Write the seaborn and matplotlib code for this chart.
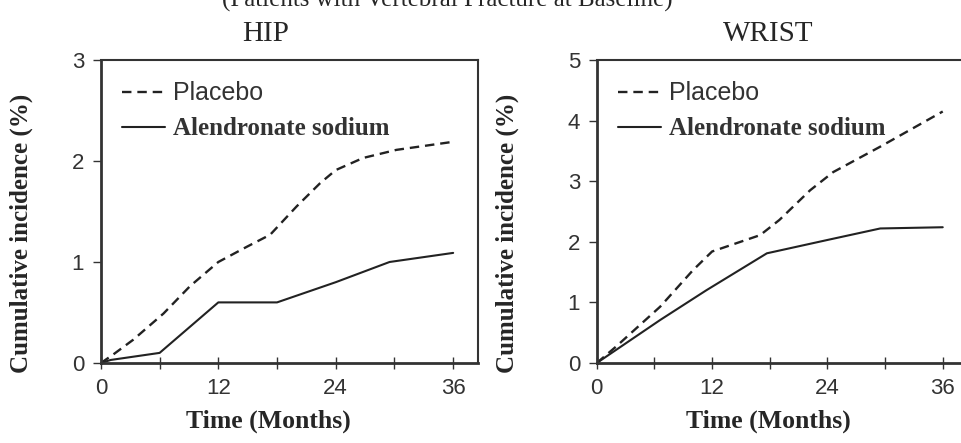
import numpy as np
import pandas as pd
import seaborn as sns
import matplotlib.pyplot as plt
from matplotlib.ticker import MultipleLocator

# data (months, cumulative incidence %)
hip_months = [0, 1.2, 3.3, 6.4, 9.1, 12, 14.9, 17.3, 20, 22.4, 24, 26.8, 30.2, 36]
hip_placebo = [0, 0.08, 0.23, 0.49, 0.76, 1.0, 1.15, 1.27, 1.55, 1.78, 1.91, 2.03, 2.11, 2.19]
hip_alen_months = [0, 1, 6, 12, 18, 24, 29.5, 36]
hip_alen = [0, 0.03, 0.1, 0.6, 0.6, 0.8, 1.0, 1.09]

wrist_months = [0, 2, 6.6, 10, 12, 17, 19, 22.2, 24.6, 29.5, 36]
wrist_placebo = [0, 0.27, 0.93, 1.53, 1.84, 2.11, 2.36, 2.85, 3.15, 3.57, 4.15]
wrist_alen_months = [0, 6.6, 11.4, 17.7, 24, 29.5, 36]
wrist_alen = [0, 0.71, 1.2, 1.81, 2.03, 2.22, 2.24]

sns.set_style("ticks")
serif = ["Liberation Serif", "DejaVu Serif"]
sans = ["Liberation Sans", "DejaVu Sans"]

fig = plt.figure(figsize=(9.61, 4.43), dpi=100)
ax1 = fig.add_axes([0.105, 0.1806, 0.392, 0.684])
ax2 = fig.add_axes([0.621, 0.1806, 0.385, 0.684])

panels = [
    (ax1, hip_months, hip_placebo, hip_alen_months, hip_alen, 3),
    (ax2, wrist_months, wrist_placebo, wrist_alen_months, wrist_alen, 5),
]

for ax, xm, yp, xa, ya, ymax in panels:
    sns.lineplot(x=xm, y=yp, ax=ax, color="#222222", linestyle=(0, (4, 2.5)),
                 linewidth=1.7, label="Placebo")
    sns.lineplot(x=xa, y=ya, ax=ax, color="#222222", linestyle="-",
                 linewidth=1.5, label="Alendronate sodium")
    ax.set_xlim(0, 38.5)
    ax.set_ylim(0, ymax)
    ax.xaxis.set_major_locator(MultipleLocator(12))
    ax.xaxis.set_minor_locator(MultipleLocator(6))
    ax.yaxis.set_major_locator(MultipleLocator(1))
    ax.tick_params(axis="both", which="both", direction="out", length=6,
                   width=1, color="#333333", labelsize=16, labelcolor="#333333",
                   pad=6)
    ax.tick_params(axis="x", which="both", direction="inout", length=8, pad=7)
    for lab in ax.get_xticklabels() + ax.get_yticklabels():
        lab.set_family(sans)
    for side in ["top", "right", "left", "bottom"]:
        ax.spines[side].set_visible(True)
        ax.spines[side].set_color("#333333")
        ax.spines[side].set_linewidth(1.5)
    ax.spines["bottom"].set_linewidth(2)
    ax.spines["left"].set_linewidth(2)
    ax.set_xlabel("")
    ax.set_ylabel("")
    leg = ax.legend(loc="upper left", frameon=False, fontsize=17,
                    handlelength=1.8, handletextpad=0.35, borderaxespad=0.5,
                    labelspacing=0.5, bbox_to_anchor=(0.0, 1.0))
    texts = leg.get_texts()
    texts[0].set_family(sans)
    texts[0].set_fontsize(18)
    texts[0].set_color("#333333")
    texts[1].set_family(serif)
    texts[1].set_fontweight("bold")
    texts[1].set_fontsize(18)
    texts[1].set_color("#333333")

fig.text(0.465, 0.986, "(Patients with Vertebral Fracture at Baseline)",
         ha="center", va="baseline", fontsize=18, family=serif)
fig.text(0.276, 0.9075, "HIP", ha="center", va="baseline", fontsize=21, family=serif)
fig.text(0.799, 0.9075, "WRIST", ha="center", va="baseline", fontsize=21, family=serif)

for xpos in [0.022, 0.528]:
    fig.text(xpos, 0.474, "Cumulative incidence (%)", rotation=90, ha="center",
             va="center", fontsize=18, fontweight="bold", family=serif)
for xpos in [0.279, 0.8]:
    fig.text(xpos, 0.05, "Time (Months)", ha="center", va="center",
             fontsize=18.5, fontweight="bold", family=serif)

fig.savefig("out.png", dpi=100)
